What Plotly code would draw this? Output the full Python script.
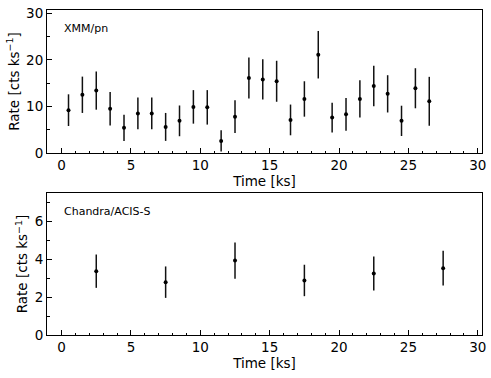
import plotly.graph_objects as go
from plotly.subplots import make_subplots

# XMM/pn light curve (1 ks bins)
xmm_time = [0.5, 1.5, 2.5, 3.5, 4.5, 5.5, 6.5, 7.5, 8.5, 9.5, 10.5, 11.5, 12.5, 13.5,
            14.5, 15.5, 16.5, 17.5, 18.5, 19.5, 20.5, 21.5, 22.5, 23.5, 24.5, 25.5, 26.5]
xmm_rate = [9.2, 12.5, 13.4, 9.5, 5.4, 8.5, 8.5, 5.6, 6.9, 9.9, 9.8, 2.6, 7.8, 16.1,
            15.8, 15.4, 7.1, 11.6, 21.1, 7.6, 8.3, 11.6, 14.4, 12.7, 6.9, 13.9, 11.1]
xmm_err = [3.4, 3.9, 4.1, 3.6, 2.8, 3.4, 3.4, 3.0, 3.3, 3.6, 3.7, 2.3, 3.5, 4.4,
           4.3, 4.4, 3.3, 3.8, 5.1, 3.2, 3.5, 4.0, 4.35, 4.0, 3.25, 4.3, 5.25]

# Chandra/ACIS-S light curve (5 ks bins)
acis_time = [2.5, 7.5, 12.5, 17.5, 22.5, 27.5]
acis_rate = [3.37, 2.79, 3.93, 2.88, 3.25, 3.53]
acis_err = [0.88, 0.83, 0.96, 0.83, 0.90, 0.92]

fig = make_subplots(rows=2, cols=1)

for row, (t, r, e) in enumerate([(xmm_time, xmm_rate, xmm_err),
                                 (acis_time, acis_rate, acis_err)], start=1):
    fig.add_trace(go.Scatter(x=t, y=r, mode="markers",
                             marker=dict(color="black", size=4),
                             error_y=dict(type="data", array=e, color="#111",
                                          thickness=1.5, width=0),
                             showlegend=False), row=row, col=1)

font = dict(family="DejaVu Sans", size=13.5, color="black")

xax = dict(range=[-1.05, 30.3], tickvals=[0, 5, 10, 15, 20, 25, 30],
           ticks="inside", ticklen=5, tickwidth=1, tickcolor="black",
           minor=dict(dtick=1, tick0=0, ticks="inside", ticklen=2.5, tickcolor="black"),
           showline=True, linecolor="black", linewidth=1, mirror=True,
           showgrid=False, zeroline=False, tickfont=font, automargin=False,
           title=dict(text="Time [ks]", font=font, standoff=2))

fig.update_xaxes(**xax)

yax = dict(ticks="inside", ticklen=5, tickwidth=1, tickcolor="black",
           showline=True, linecolor="black", linewidth=1, mirror=True,
           showgrid=False, zeroline=False, tickfont=font, automargin=False,
           title=dict(text="Rate [cts ks<sup>−1</sup>]", font=font, standoff=3))

fig.update_yaxes(**yax)
fig.update_yaxes(range=[0, 30.7], tickvals=[0, 10, 20, 30],
                 minor=dict(dtick=5, tick0=0, ticks="inside", ticklen=2.5, tickcolor="black"),
                 domain=[0.56, 1], row=1, col=1)
fig.update_yaxes(range=[0, 7.5], tickvals=[0, 2, 4, 6],
                 minor=dict(dtick=1, tick0=0, ticks="inside", ticklen=2.5, tickcolor="black"),
                 domain=[0, 0.437], row=2, col=1)

fig.add_annotation(text="XMM/pn", xref="x domain", yref="y domain", x=0.034, y=0.874,
                   xanchor="left", yanchor="middle", showarrow=False,
                   font=dict(family="DejaVu Sans", size=11, color="black"))
fig.add_annotation(text="Chandra/ACIS-S", xref="x2 domain", yref="y2 domain", x=0.034, y=0.873,
                   xanchor="left", yanchor="middle", showarrow=False,
                   font=dict(family="DejaVu Sans", size=11, color="black"))

fig.update_layout(width=491, height=378, margin=dict(l=47, r=9, t=10, b=43),
                  plot_bgcolor="white", paper_bgcolor="white")

# drop the default page margin so the figure sits at the window's corner
fig.write_html("out.html", config={"displayModeBar": False},
               post_script="document.body.style.margin='0';")
